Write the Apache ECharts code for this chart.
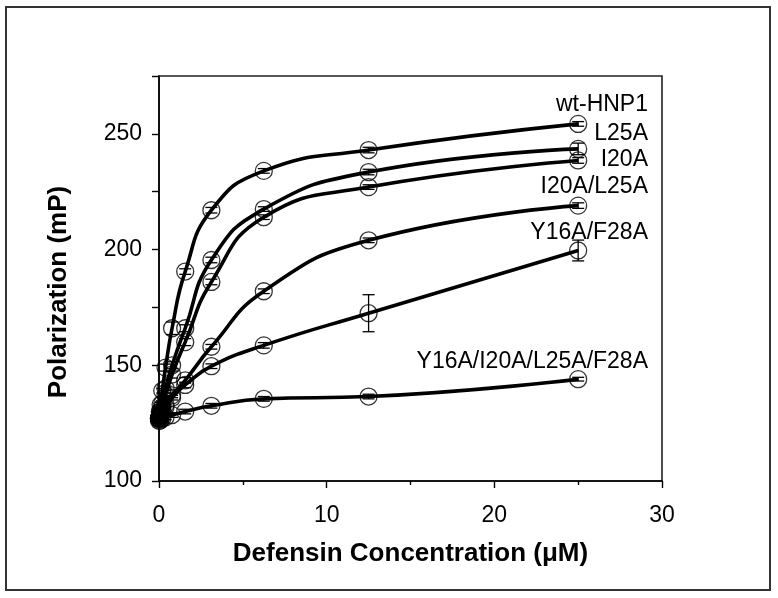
<!DOCTYPE html>
<html>
<head>
<meta charset="utf-8">
<script src="https://cdn.jsdelivr.net/npm/echarts@6/dist/echarts.min.js"></script>
<style>
html,body{margin:0;padding:0;background:#fff;}
#chart{width:778px;height:598px;}
</style>
</head>
<body>
<div id="chart"></div>
<script>
// Defensin concentration (µM)
const conc = [0, 0.049, 0.098, 0.195, 0.39, 0.78, 1.5625, 3.125, 6.25, 12.5, 25];

const seriesNames = ['wt-HNP1', 'L25A', 'I20A', 'I20A/L25A', 'Y16A/F28A', 'Y16A/I20A/L25A/F28A'];

// Polarization (mP)
const wtHNP1   = [127, 130, 133, 139, 149, 166, 190.5, 217, 234, 243, 254.3];
const L25A     = [127, 128.5, 130, 133.5, 140, 150, 166, 195.5, 217.5, 233.5, 243.5];
const I20A     = [127, 128, 129.5, 132, 137, 146, 160, 186, 214, 227, 238.5];
const I20AL25A = [127, 127.5, 128.5, 130, 133, 137, 143.5, 158, 182, 204, 219];
const Y16AF28A = [127, 127.5, 128, 129.5, 132, 136, 141.5, 149.6, 158.6, 172.5, 199.6];
const quad     = [126, 126, 126.5, 127, 127.5, 128.5, 130, 132.5, 135.5, 136.5, 144];

// error bars (± mP)
const wtErr    = [1, 1, 1, 1, 1.5, 2.7, 1.2, 1.2, 1, 1.2, 1];
const L25AErr  = [1, 1, 1, 1, 1, 1.5, 1.5, 1.2, 1, 1.2, 2.5];
const I20AErr  = [1, 1, 1, 1, 1, 1.5, 1.5, 1.2, 1, 1, 1.2];
const I20AL25AErr = [1, 1, 1, 1, 1, 1, 1.2, 1, 1, 1, 1.2];
const Y16AF28AErr = [1, 1, 1, 1, 1, 1, 1.2, 1, 1.2, 8, 4.5];
const quadErr  = [1, 1, 1, 1, 1, 1, 1, 1, 1, 1, 0.8];

// tick labels
const xTickLabels = [0, 10, 20, 30];
const yTickLabels = [100, 150, 200, 250];

const values = [wtHNP1, L25A, I20A, I20AL25A, Y16AF28A, quad];
const errors = [wtErr, L25AErr, I20AErr, I20AL25AErr, Y16AF28AErr, quadErr];

const chart = echarts.init(document.getElementById('chart'), null, {renderer: 'canvas'});

const series = [];
values.forEach((vals, i) => {
  const pts = conc.map((c, k) => [c, vals[k]]);
  series.push({
    name: seriesNames[i] + ' curve',
    type: 'line',
    data: pts,
    smooth: 0.5,
    showSymbol: false,
    lineStyle: {color: '#000', width: 3.6},
    z: 2,
    silent: true
  });
  series.push({
    name: seriesNames[i] + ' err',
    type: 'custom',
    data: conc.map((c, k) => [c, vals[k], errors[i][k]]),
    renderItem: function (params, api) {
      const x = api.value(0), y = api.value(1), e = api.value(2);
      const top = api.coord([x, y + e]);
      const bot = api.coord([x, y - e]);
      const w = 6;
      const st = {stroke: '#000', lineWidth: 1.3};
      return {
        type: 'group',
        children: [
          {type: 'line', shape: {x1: top[0], y1: top[1], x2: bot[0], y2: bot[1]}, style: st},
          {type: 'line', shape: {x1: top[0] - w, y1: top[1], x2: top[0] + w, y2: top[1]}, style: st},
          {type: 'line', shape: {x1: bot[0] - w, y1: bot[1], x2: bot[0] + w, y2: bot[1]}, style: st}
        ]
      };
    },
    z: 3,
    silent: true
  });
  series.push({
    name: seriesNames[i],
    type: 'scatter',
    data: pts,
    symbol: 'circle',
    symbolSize: 17,
    itemStyle: {color: 'rgba(0,0,0,0)', borderColor: '#000', borderWidth: 1.3},
    z: 4,
    silent: true
  });
});

const labelFont = '23px "Liberation Sans", Arial, sans-serif';
const labelRight = 648;
const labelYs = [105, 134, 160, 187, 233, 362];

chart.setOption({
  animation: false,
  backgroundColor: '#fff',
  grid: {left: 159, top: 76, right: 116, bottom: 117, show: true, borderColor: '#222', borderWidth: 1.6, backgroundColor: 'transparent'},
  xAxis: {
    type: 'value', min: 0, max: 30, interval: 10,
    name: 'Defensin Concentration (μM)',
    nameLocation: 'middle', nameGap: 60,
    nameTextStyle: {fontFamily: 'Liberation Sans', fontWeight: 'bold', fontSize: 26, color: '#000'},
    axisLine: {show: true, onZero: false, lineStyle: {color: '#000', width: 1.6}},
    axisTick: {show: true, inside: false, length: 7, lineStyle: {color: '#000', width: 1.4}},
    minorTick: {show: true, splitNumber: 2, length: 4, lineStyle: {color: '#000', width: 1.4}},
    splitLine: {show: false},
    minorSplitLine: {show: false},
    axisLabel: {
      margin: 23, fontFamily: 'Liberation Sans', fontSize: 23, color: '#000',
      formatter: v => xTickLabels.includes(v) ? String(v) : ''
    }
  },
  yAxis: {
    type: 'value', min: 100, max: 275, interval: 25,
    axisLine: {show: true, onZero: false, lineStyle: {color: '#000', width: 1.6}},
    axisTick: {show: true, inside: false, length: 7, lineStyle: {color: '#000', width: 1.4}},
    splitLine: {show: false},
    axisLabel: {
      margin: 17, fontFamily: 'Liberation Sans', fontSize: 23, color: '#000',
      formatter: v => yTickLabels.includes(v) ? String(v) : ''
    }
  },
  graphic: [
    {type: 'rect', shape: {x: 6, y: 7, width: 764, height: 583}, style: {fill: 'none', stroke: '#333', lineWidth: 2}, silent: true, z: 0},
    {type: 'text', x: 59, y: 292, rotation: Math.PI / 2,
     style: {text: 'Polarization (mP)', font: 'bold 26px "Liberation Sans", Arial, sans-serif', fill: '#000', textAlign: 'center', textVerticalAlign: 'middle'},
     silent: true, z: 10}
  ].concat(seriesNames.map((n, i) => ({
    type: 'text', x: labelRight, y: labelYs[i],
    style: {text: n, font: labelFont, fill: '#000', textAlign: 'right', textVerticalAlign: 'middle'},
    silent: true, z: 10
  }))),
  series: series
});
</script>
</body>
</html>
